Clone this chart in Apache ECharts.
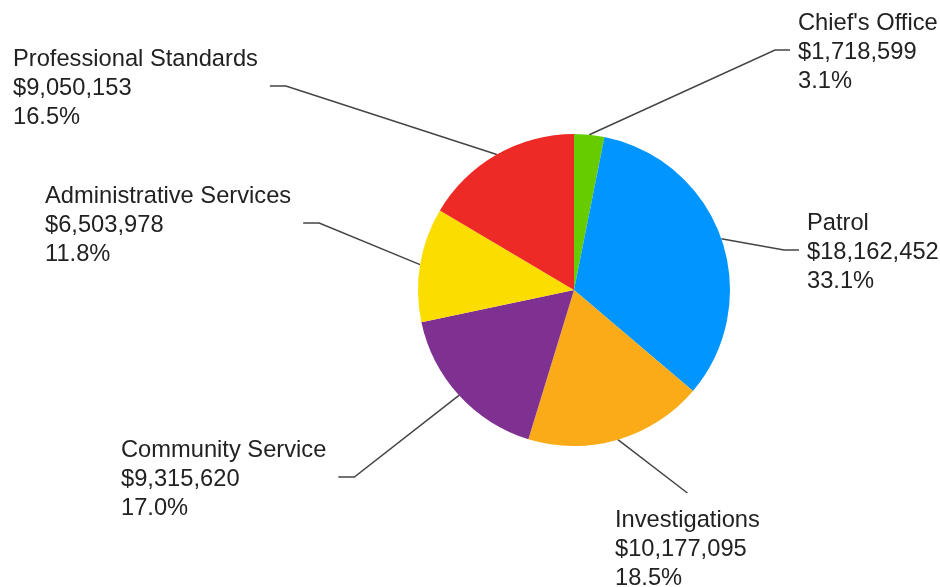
<!DOCTYPE html>
<html>
<head>
    <meta charset="utf-8">
    <script src="https://cdn.jsdelivr.net/npm/echarts@6/dist/echarts.min.js"></script>
    <style>
        html, body { margin: 0; padding: 0; background: #fff; }
    </style>
</head>
<body>
    <div id="main" style="width: 940px;height:587px;"></div>
    <script type="text/javascript">
        // data
        var names = ["Chief's Office", 'Patrol', 'Investigations', 'Community Service', 'Administrative Services', 'Professional Standards'];
        var amounts = [1718599, 18162452, 10177095, 9315620, 6503978, 9050153];
        var colors = ['#66cc00', '#0095ff', '#fbab18', '#7f3192', '#fbdd00', '#ee2a27'];

        // where each label goes: left x, top y of text, which side of the pie
        var labelPos = [
            [798, 9, 'right'],
            [807, 209, 'right'],
            [615, 506, 'bottom'],
            [121, 436, 'left'],
            [45, 182, 'left'],
            [13, 45, 'left']
        ];

        var total = amounts.reduce(function (a, b) { return a + b; }, 0);
        var pieData = names.map(function (n, i) {
            return { name: n, value: amounts[i], itemStyle: { color: colors[i] } };
        });

        var myChart = echarts.init(document.getElementById('main'));
        var option = {
            animation: false,
            series: [{
                type: 'pie',
                center: [574, 290],
                radius: 156,
                startAngle: 90,
                clockwise: true,
                data: pieData,
                itemStyle: { borderWidth: 0 },
                label: {
                    show: true,
                    position: 'outside',
                    fontFamily: "'Liberation Sans', Arial, sans-serif",
                    fontSize: 23.7,
                    lineHeight: 29,
                    color: '#222',
                    formatter: function (p) {
                        return p.name + '\n$' + p.value.toLocaleString('en-US') + '\n' +
                            (p.value / total * 100).toFixed(1) + '%';
                    }
                },
                labelLine: {
                    show: true,
                    lineStyle: { color: '#444', width: 1.5 }
                },
                labelLayout: function (params) {
                    var i = params.dataIndex;
                    var pos = labelPos[i];
                    var w = params.labelRect.width;
                    var p0 = params.labelLinePoints ? params.labelLinePoints[0] : null;
                    var end, bend;
                    if (pos[2] === 'right') {
                        end = [pos[0] - 8, pos[1] + 41];
                        bend = [end[0] - 15, end[1]];
                    } else if (pos[2] === 'left') {
                        end = [pos[0] + w + 12, pos[1] + 41];
                        bend = [end[0] + 16, end[1]];
                    } else {
                        end = [pos[0] + w / 2, pos[1] - 13];
                        bend = end;
                    }
                    var out = {
                        x: pos[0],
                        y: pos[1],
                        align: 'left',
                        verticalAlign: 'top'
                    };
                    if (p0) {
                        out.labelLinePoints = [p0, bend, end];
                    }
                    return out;
                }
            }]
        };
        myChart.setOption(option);
    </script>
</body>
</html>
